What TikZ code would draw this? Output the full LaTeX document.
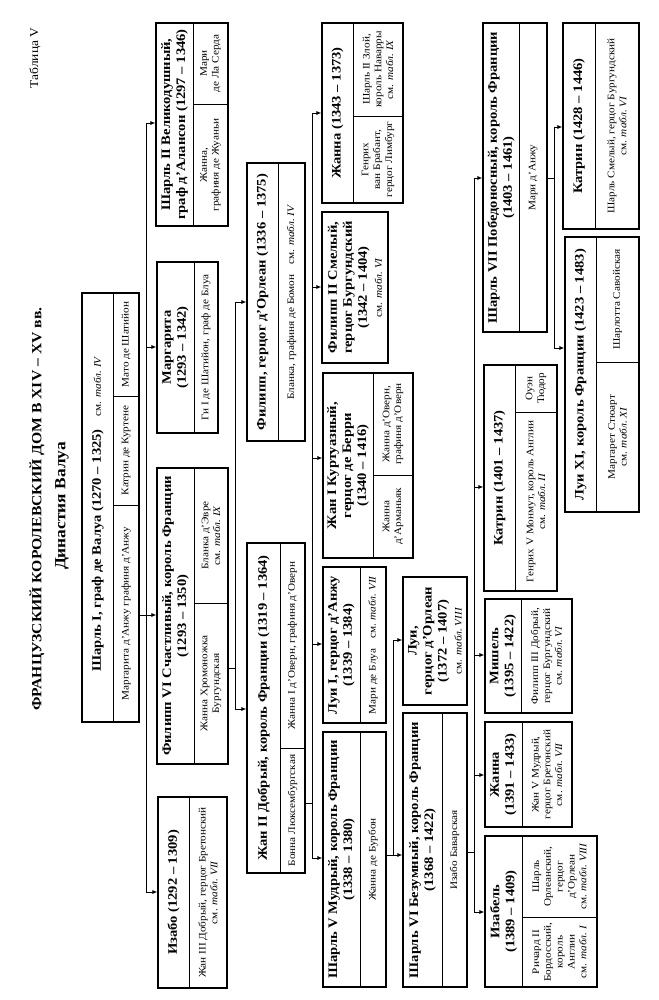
\documentclass[tikz,border=0pt]{standalone}
\usepackage{fontspec}
\setmainfont{Liberation Serif}[FakeStretch=1.12]
\usetikzlibrary{fit,arrows.meta}
\tikzset{
 gbox/.style={draw, line width=1.1pt, inner sep=0pt},
 div/.style={line width=0.8pt},
 conn/.style={line width=0.9pt},
 arr/.style={conn, -{Latex[length=5pt,width=4pt]}},
 nm/.style={rotate=90, align=center, font=\fontsize{13}{15}\selectfont\bfseries, inner sep=0pt},
 sp/.style={rotate=90, align=center, font=\fontsize{10}{11.8}\selectfont, inner sep=0pt},
 ttl/.style={rotate=90, align=center, font=\fontsize{14}{16}\selectfont\bfseries, inner sep=0pt},
}
\newcommand\tb[1]{см. \textit{табл.~#1}}
\newcommand\gbox[5]{\node[gbox, fit={(#2,#3) (#4,#5)}] (#1) {};}
\begin{document}
\begin{tikzpicture}[x=1pt,y=-1pt]
\fill[white] (0,0) rectangle (658,1000);
\useasboundingbox (0,0) rectangle (658,1000);

% titles
\node[rotate=90, font=\fontsize{12}{14}\selectfont, inner sep=0pt] (tab) at (35,58) {Таблица V};
\node[ttl] (title) at (37,509) {ФРАНЦУЗСКИЙ КОРОЛЕВСКИЙ ДОМ В XIV – XV вв.};
\node[ttl, font=\fontsize{15.5}{17}\selectfont\bfseries] (subtitle) at (62,506) {Династия Валуа};

% ---------- boxes ----------
% A Charles I
\gbox{A}{82}{293}{139}{722}
\draw[div] (113.5,293) -- (113.5,722);
\draw[div] (113.5,396) -- (139,396);
\draw[div] (113.5,505) -- (139,505);
\node[nm] (A-n) at (97.7,514) {Шарль I, граф де Валуа (1270 – 1325)\quad{\mdseries\fontsize{10}{11}\selectfont\tb{IV}}};
\node[sp] (A-s1) at (126.2,613.5) {Маргарита д'Анжу графиня д'Анжу};
\node[sp] (A-s2) at (126.2,450.5) {Катрин де Куртене};
\node[sp] (A-s3) at (126.2,344.5) {Мато де Шатийон};

% B Charles II d'Alencon
\gbox{B}{156}{23}{228}{226}
\draw[div] (193,23) -- (193,226);
\draw[div] (193,104) -- (228,104);
\node[nm] (B-n) at (174.5,124.5) {Шарль II Великодушный,\\граф д'Алансон (1297 – 1346)};
\node[sp] (B-s1) at (210.5,165) {Жанна,\\графиня де Жуаньи};
\node[sp] (B-s2) at (210.5,63.5) {Мари\\де Ла Серда};

% C Marguerite
\gbox{C}{157}{262}{218}{433}
\draw[div] (194,262) -- (194,433);
\node[nm] (C-n) at (175.5,347.5) {Маргарита\\(1293 – 1342)};
\node[sp] (C-s) at (206,347.5) {Ги I де Шатийон, граф де Блуа};

% D Philippe VI
\gbox{D}{157}{468}{228}{764}
\draw[div] (194,468) -- (194,764);
\draw[div] (194,603) -- (228,603);
\node[nm] (D-n) at (175.5,616) {Филипп VI Счастливый, король Франции\\(1293 – 1350)};
\node[sp] (D-s1) at (211,683.5) {Жанна Хромоножка\\Бургундская};
\node[sp] (D-s2) at (211,535.5) {Бланка д'Эвре\\\tb{IX}};

% E Isabelle
\gbox{E}{158}{797}{227}{988}
\draw[div] (189,797) -- (189,988);
\node[nm] (E-n) at (173.5,892.5) {Изабо (1292 – 1309)};
\node[sp] (E-s) at (208,892.5) {Жан III Добрый, герцог Бретонский\\\tb{VII}};

% F Philippe d'Orleans
\gbox{F}{247}{163}{305}{441}
\draw[div] (278,163) -- (278,441);
\node[nm] (F-n) at (262.5,302) {Филипп, герцог д'Орлеан (1336 – 1375)};
\node[sp] (F-s) at (291.5,302) {Бланка, графиня де Бомон\quad\tb{IV}};

% G Jean II
\gbox{G}{247}{543}{305}{873}
\draw[div] (280,543) -- (280,873);
\draw[div] (280,748) -- (305,748);
\node[nm] (G-n) at (263.5,708) {Жан II Добрый, король Франции (1319 – 1364)};
\node[sp] (G-s1) at (292.5,645.5) {Жанна I д'Оверн, графиня д'Оверн};
\node[sp] (G-s2) at (292.5,810.5) {Бонна Люксембургская};

% H Jeanne 1343
\gbox{H}{322}{23}{403}{203}
\draw[div] (353,23) -- (353,203);
\draw[div] (353,116) -- (403,116);
\node[nm] (H-n) at (337.5,113) {Жанна (1343 – 1373)};
\node[sp] (H-s1) at (378,69.5) {Шарль II Злой,\\король Наварры\\\tb{IX}};
\node[sp] (H-s2) at (378,159.5) {Генрих\\ван Брабант,\\герцог Лимбург};

% I Philippe le Hardi
\gbox{I}{322}{212}{388}{363}
\node[nm] (I-n) at (355,287.5) {Филипп II Смелый,\\герцог Бургундский\\(1342 – 1404)\\{\mdseries\fontsize{10}{11}\selectfont\tb{VI}}};

% J Jean de Berry
\gbox{J}{323}{373}{413}{558}
\draw[div] (373,373) -- (373,558);
\draw[div] (373,475) -- (413,475);
\node[nm] (J-n) at (348,465.5) {Жан I Куртуазный,\\герцог де Берри\\(1340 – 1416)};
\node[sp] (J-s1) at (393,424) {Жанна д'Оверн,\\графиня д'Оверн};
\node[sp] (J-s2) at (393,516.5) {Жанна\\д'Арманьяк};

% K Louis d'Anjou
\gbox{K}{323}{567}{386}{723}
\draw[div] (360,567) -- (360,723);
\node[nm] (K-n) at (341.5,645) {Луи I, герцог д'Анжу\\(1339 – 1384)};
\node[sp] (K-s) at (373,645) {Мари де Блуа\quad\tb{VII}};

% L Charles V
\gbox{L}{323}{732}{386}{987}
\draw[div] (360,732) -- (360,987);
\node[nm] (L-n) at (341.5,859.5) {Шарль V Мудрый, король Франции\\(1338 – 1380)};
\node[sp] (L-s) at (373,859.5) {Жанна де Бурбон};

% M Louis d'Orleans
\gbox{M}{403}{577}{467}{705}
\node[nm] (M-n) at (435,641) {Луи,\\герцог д'Орлеан\\(1372 – 1407)\\{\mdseries\fontsize{10}{11}\selectfont\tb{VIII}}};

% N Charles VI
\gbox{N}{403}{713}{467}{987}
\draw[div] (442,713) -- (442,987);
\node[nm] (N-n) at (422.5,850) {Шарль VI Безумный, король Франции\\(1368 – 1422)};
\node[sp] (N-s) at (454.5,850) {Изабо Баварская};

% O Charles VII
\gbox{O}{483}{23}{547}{332}
\draw[div] (519,23) -- (519,332);
\node[nm] (O-n) at (501,177.5) {Шарль VII Победоносный, король Франции\\(1403 – 1461)};
\node[sp] (O-s) at (533,177.5) {Мари д'Анжу};

% P Catherine 1401
\gbox{P}{484}{365}{557}{591}
\draw[div] (515,365) -- (515,591);
\draw[div] (515,412) -- (557,412);
\node[nm] (P-n) at (499.5,478) {Катрин (1401 – 1437)};
\node[sp] (P-s1) at (536,388.5) {Оуэн\\Тюдор};
\node[sp] (P-s2) at (536,501.5) {Генрих V Монмут, король Англии\\\tb{II}};

% Q Michelle
\gbox{Q}{485}{599}{572}{713}
\draw[div] (521,599) -- (521,713);
\node[nm] (Q-n) at (503,656) {Мишель\\(1395 – 1422)};
\node[sp] (Q-s) at (546.5,656) {Филипп III Добрый,\\герцог Бургундский\\\tb{VI}};

% R Jeanne 1391
\gbox{R}{485}{722}{572}{827}
\draw[div] (522,722) -- (522,827);
\node[nm] (R-n) at (503.5,774.5) {Жанна\\(1391 – 1433)};
\node[sp] (R-s) at (547,774.5) {Жан V Мудрый,\\герцог Бретонский\\\tb{VII}};

% S Isabelle 1389
\gbox{S}{485}{836}{597}{987}
\draw[div] (522,836) -- (522,987);
\draw[div] (522,917) -- (597,917);
\node[nm] (S-n) at (503.5,911.5) {Изабель\\(1389 – 1409)};
\node[sp] (S-s1) at (559.5,876.5) {Шарль\\Орлеанский,\\герцог\\д'Орлеан\\\tb{VIII}};
\node[sp] (S-s2) at (559.5,952) {Ричард II\\Бордосский,\\король\\Англии\\\tb{I}};

% T Catherine 1428
\gbox{T}{563}{23}{639}{229}
\draw[div] (595,23) -- (595,229);
\node[nm] (T-n) at (579,126) {Катрин (1428 – 1446)};
\node[sp] (T-s) at (617,126) {Шарль Смелый, герцог Бургундский\\\tb{VI}};

% U Louis XI
\gbox{U}{565}{237}{639}{512}
\draw[div] (596,237) -- (596,512);
\draw[div] (596,362) -- (639,362);
\node[nm] (U-n) at (580.5,374.5) {Луи XI, король Франции (1423 – 1483)};
\node[sp] (U-s1) at (617.5,299.5) {Шарлотта Савойская};
\node[sp] (U-s2) at (617.5,437) {Маргарет Стюарт\\\tb{XI}};

% ---------- connectors ----------
% children of Charles I
\coordinate (s1a) at (146,123);
\coordinate (s1b) at (146,347);
\coordinate (s1c) at (146,615);
\coordinate (s1d) at (146,892);
\draw[conn] (s1a) -- (s1d);
\draw[arr] (s1a) -- (B.west |- s1a);
\draw[arr] (s1b) -- (C.west |- s1b);
\draw[arr] (A.east |- s1c) -- (D.west |- s1c);
\draw[arr] (s1d) -- (E.west |- s1d);

% children of Philippe VI
\coordinate (s2a) at (235,302);
\coordinate (s2j) at (235,668);
\coordinate (s2b) at (235,709);
\draw[conn] (D.east |- s2j) -- (s2j);
\draw[conn] (s2a) -- (s2b);
\draw[arr] (s2a) -- (F.west |- s2a);
\draw[arr] (s2b) -- (G.west |- s2b);

% children of Jean II
\coordinate (s3a) at (312,113);
\coordinate (s3b) at (312,287);
\coordinate (s3c) at (312,458);
\coordinate (s3d) at (312,644);
\coordinate (s3j) at (312,803);
\coordinate (s3e) at (312,858);
\draw[conn] (G.east |- s3j) -- (s3j);
\draw[conn] (s3a) -- (s3e);
\draw[arr] (s3a) -- (H.west |- s3a);
\draw[arr] (s3b) -- (I.west |- s3b);
\draw[arr] (s3c) -- (J.west |- s3c);
\draw[arr] (s3d) -- (K.west |- s3d);
\draw[arr] (s3e) -- (L.west |- s3e);

% children of Charles V
\coordinate (s4a) at (393,640);
\coordinate (s4b) at (393,855);
\draw[conn] (s4a) -- (s4b);
\draw[arr] (s4a) -- (M.west |- s4a);
\draw[arr] (L.east |- s4b) -- (N.west |- s4b);

% children of Charles VI
\coordinate (s5a) at (474,178);
\coordinate (s5b) at (474,487);
\coordinate (s5c) at (474,655);
\coordinate (s5d) at (474,775);
\coordinate (s5j) at (474,852);
\coordinate (s5e) at (474,912);
\draw[conn] (N.east |- s5j) -- (s5j);
\draw[conn] (s5a) -- (s5e);
\draw[arr] (s5a) -- (O.west |- s5a);
\draw[arr] (s5b) -- (P.west |- s5b);
\draw[arr] (s5c) -- (Q.west |- s5c);
\draw[arr] (s5d) -- (R.west |- s5d);
\draw[arr] (s5e) -- (S.west |- s5e);

% children of Charles VII
\coordinate (s6a) at (554,127);
\coordinate (s6j) at (554,178);
\coordinate (s6b) at (554,348);
\draw[conn] (O.east |- s6j) -- (s6j);
\draw[conn] (s6a) -- (s6b);
\draw[arr] (s6a) -- (T.west |- s6a);
\draw[arr] (s6b) -- (U.west |- s6b);
\end{tikzpicture}
\end{document}
